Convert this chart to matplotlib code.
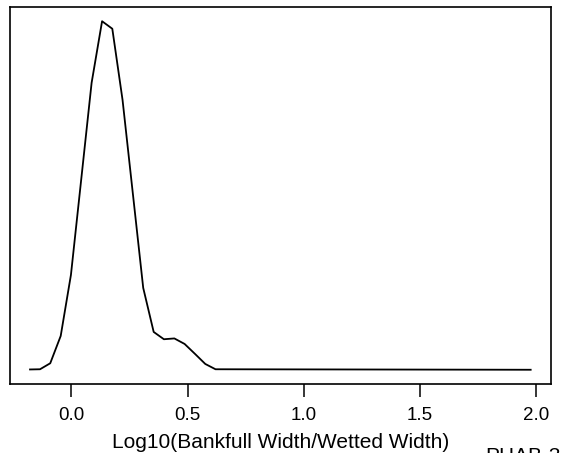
import matplotlib
matplotlib.use("Agg")
import matplotlib.pyplot as plt

plt.rcParams['font.family'] = ['Liberation Sans', 'DejaVu Sans']

# density estimate of log10(bankfull width / wetted width)
log_ratio = [-0.178, -0.135, -0.091, -0.046, -0.002, 0.043, 0.087, 0.132, 0.176,
             0.220, 0.265, 0.309, 0.354, 0.398, 0.443, 0.487, 0.532, 0.576,
             0.620, 1.976]
density = [0.5, 0.7, 6.7, 34, 95, 192, 287, 348.5, 341,
           270, 175, 82, 38, 30.7, 31.5, 26, 16, 6,
           0.7, 0.2]
x_ticks = [0.0, 0.5, 1.0, 1.5, 2.0]
x_tick_labels = ["0.0", "0.5", "1.0", "1.5", "2.0"]

W, H = 562, 453
fig = plt.figure(figsize=(W / 100, H / 100), dpi=100)
ax = fig.add_axes([10 / W, (H - 383.7) / H, (550.7 - 10) / W, (383.7 - 7.3) / H])

ax.plot(log_ratio, density, color="black", lw=1.3)

# R style 4% padding
xr = max(log_ratio) - min(log_ratio)
yr = max(density) - min(density)
ax.set_xlim(min(log_ratio) - 0.04 * xr, max(log_ratio) + 0.04 * xr)
ax.set_ylim(min(density) - 0.04 * yr, max(density) + 0.04 * yr)

ax.set_xticks(x_ticks)
ax.set_xticklabels(x_tick_labels, fontsize=13.5)
ax.set_yticks([])
ax.tick_params(axis="x", direction="out", length=9.4, width=1.1, pad=7.2, color="black")
for s in ax.spines.values():
    s.set_linewidth(1.2)
    s.set_color("black")

ax.set_xlabel("Log10(Bankfull Width/Wetted Width)", fontsize=15, labelpad=7)

fig.text(485 / W, (H - 446.5) / H, "PHAB-3", fontsize=15, ha="left", va="top")

fig.savefig("out.png", dpi=100)
